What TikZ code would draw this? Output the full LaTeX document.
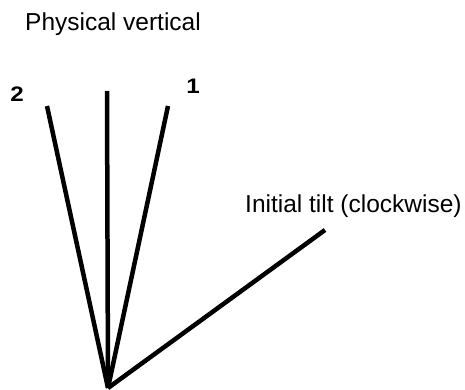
\documentclass[tikz,border=0pt]{standalone}
\usepackage{fontspec}
\setmainfont{Liberation Sans}
\begin{document}
\begin{tikzpicture}[x=1pt,y=-1pt,
  ray/.style={line width=4.5pt, line cap=butt},
  lbl/.style={inner sep=0pt, font=\fontsize{24.5}{28}\selectfont},
  num/.style={inner sep=0pt, font=\fontsize{21}{24}\selectfont\bfseries}]
\useasboundingbox (0,0) rectangle (465,390);
\coordinate (o) at (108,388);
\coordinate (v) at (107,91);
\coordinate (one) at (168,106);
\coordinate (two) at (47,106);
\coordinate (tilt) at (325,230);
\draw[ray] (o) -- (v);
\draw[ray] (o) -- (one);
\draw[ray] (o) -- (two);
\draw[ray] (o) -- (tilt);
\node[lbl, anchor=base west] (pv) at (25,31) {Physical vertical};
\node[lbl, anchor=base west] (it) at (245,212) {Initial tilt (clockwise)};
\node[num, xscale=1.15] (n1) at (193,86) {1};
\node[num, xscale=1.15] (n2) at (17,94) {2};
\end{tikzpicture}
\end{document}
